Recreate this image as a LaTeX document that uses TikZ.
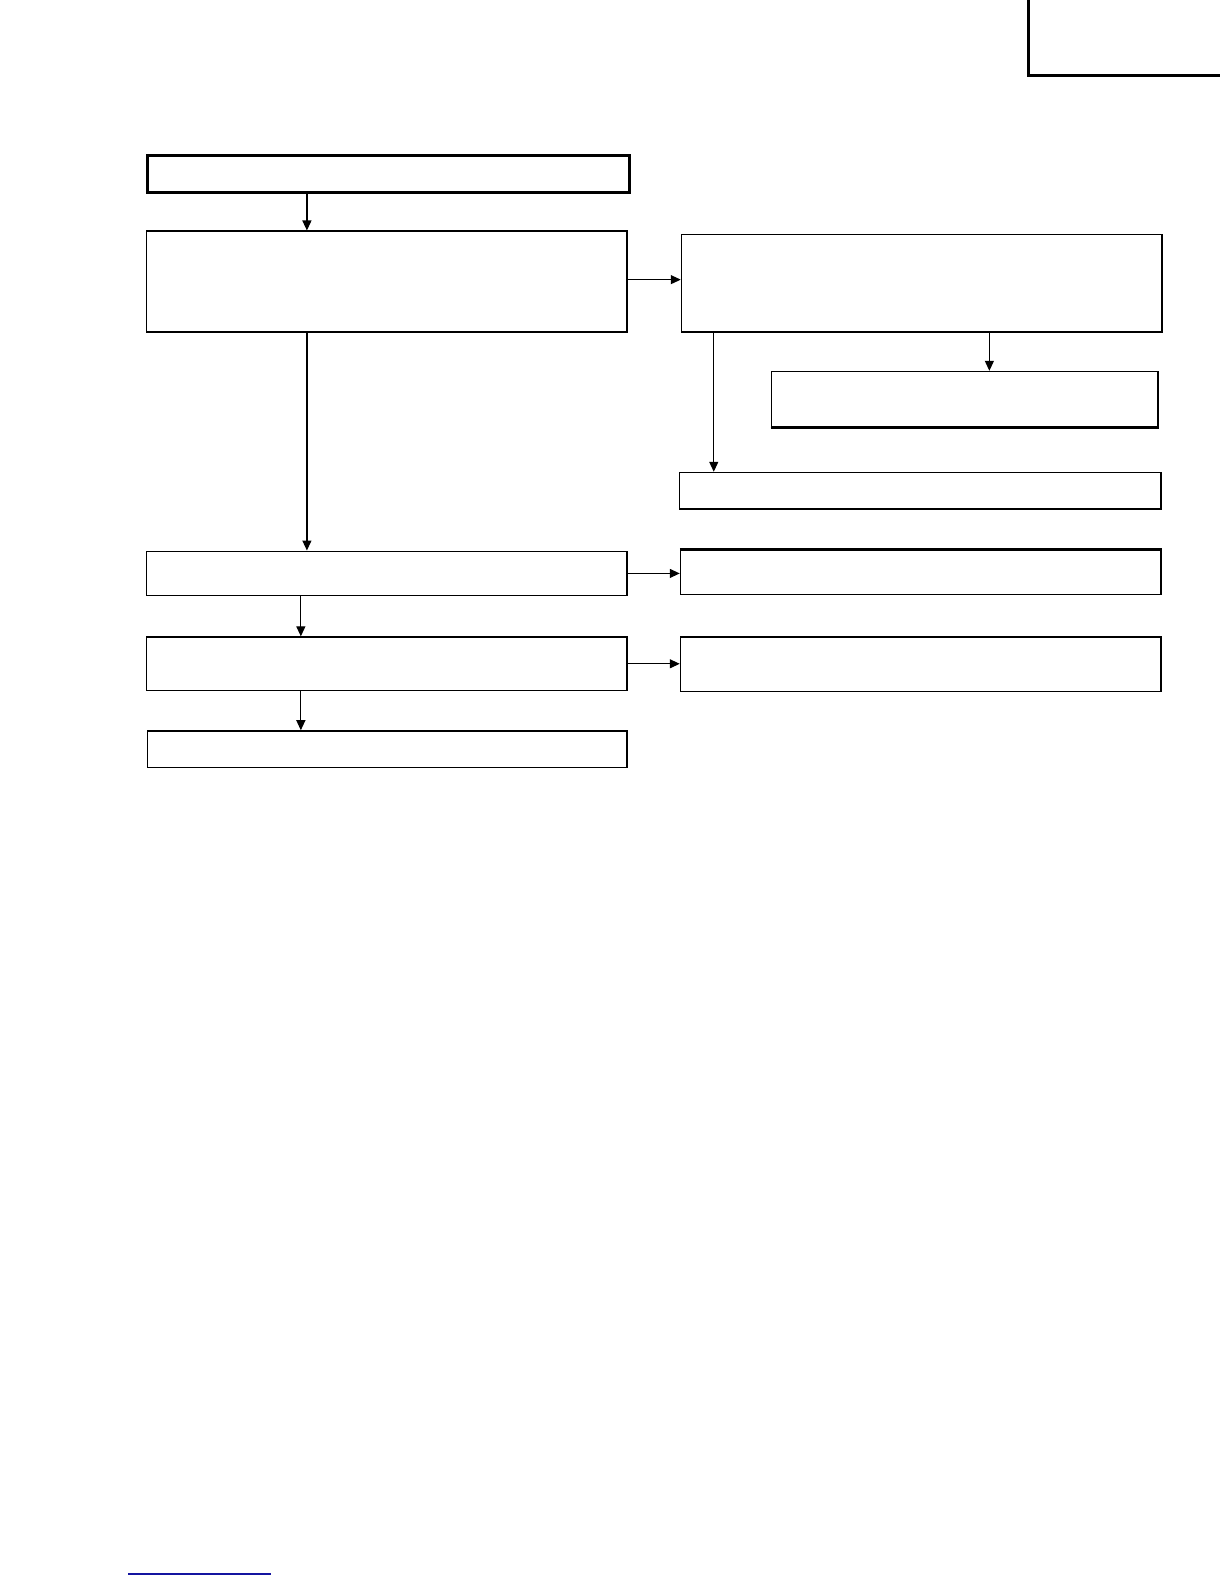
\documentclass[tikz,border=0pt]{standalone}
\usetikzlibrary{arrows.meta}
\definecolor{linkblue}{RGB}{20,20,160}
\begin{document}
\begin{tikzpicture}[x=0.5048pt,y=-0.5048pt,
  box/.style={draw=black,line width=0.7pt,inner sep=0pt,fill=none},
  thickbox/.style={box,line width=1.5pt},
  arr/.style={draw=black,line width=0.6pt,-{Triangle[length=5pt,width=4.5pt]}}]
\useasboundingbox (0,0) rectangle (1212.4,1569);
\newcommand\bx[6][box]{\node[#1,minimum width={(#5-#3)*0.5048pt},minimum height={(#6-#4)*0.5048pt}] (#2) at ({(#3+#5)/2},{(#4+#6)/2}) {};}
\bx[thickbox]{top}{146}{154}{624}{191}
\bx{b2}{145}{229}{621}{329}
\bx{b3}{675}{232}{1151}{329}
\bx{b4}{764}{368}{1147}{423}
\bx{b5}{673}{468}{1150}{504}
\bx{b6}{145}{546}{621}{590}
\bx{b7}{674}{545}{1150}{589}
\bx{b8}{145}{631}{621}{684}
\bx{b9}{674}{631}{1150}{685}
\bx{b10}{146}{724}{621}{760}
% extra-thick edges
\draw[line width=1.2pt] (b4.south west) -- (b4.south east);
\draw[line width=1.2pt] (b7.north west) -- (b7.north east);
% arrow x positions
\coordinate (xa) at (304,0);
\coordinate (xb) at (980,0);
\coordinate (xc) at (707,0);
\coordinate (xd) at (298,0);
\draw[arr] (top.south -| xa) -- (b2.north -| xa);
\draw[arr] (b2.east) ++(0,-2) coordinate (e23) -- (e23 -| b3.west);
\draw[arr] (b3.south -| xb) -- (b4.north -| xb);
\draw[arr] (b3.south -| xc) -- (b5.north -| xc);
\draw[arr] (b2.south -| xa) -- (b6.north -| xa);
\draw[arr] (b6.east) -- (b6.east -| b7.west);
\draw[arr] (b6.south -| xd) -- (b8.north -| xd);
\draw[arr] (b8.east) -- (b8.east -| b9.west);
\draw[arr] (b8.south -| xd) -- (b10.north -| xd);
% corner mark
\coordinate (k1) at (1019,0);
\coordinate (k2) at (1019,75);
\coordinate (k3) at (1208,75);
\draw[line width=1.5pt] (k1) -- (k2) -- (k3);
% blue rule at bottom
\coordinate (u1) at (127,1559);
\coordinate (u2) at (268,1559);
\draw[linkblue,line width=0.7pt] (u1) -- (u2);
\end{tikzpicture}
\end{document}
